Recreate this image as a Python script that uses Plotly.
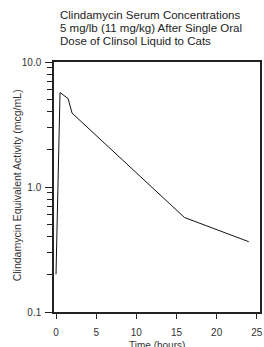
import plotly.graph_objects as go

time_h = [0, 0.5, 1.5, 2, 16, 24]
conc = [0.2, 5.7, 5.1, 3.9, 0.57, 0.365]

x_ticks = [0, 5, 10, 15, 20, 25]
y_ticks = [0.1, 1.0, 10.0]
y_ticktext = ["0.1", "1.0", "10.0"]
y_minor = [0.2, 0.3, 0.4, 0.5, 0.6, 0.7, 0.8, 0.9, 2, 3, 4, 5, 6, 7, 8, 9]

title_lines = ["Clindamycin Serum Concentrations",
               "5 mg/lb (11 mg/kg) After Single Oral",
               "Dose of Clinsol Liquid to Cats"]
x_title = "Time (hours)"
y_title = "Clindamycin Equivalent Activity (mcg/mL)"

FONT = "Liberation Sans, Arial, sans-serif"
TXT = "#333333"
AX = "#222222"

fig = go.Figure()
fig.add_trace(go.Scatter(x=time_h, y=conc, mode="lines",
                         line=dict(color="#111111", width=1)))

fig.update_layout(
    width=264, height=347,
    margin=dict(l=54, r=2, t=62, b=35),
    paper_bgcolor="white", plot_bgcolor="white",
    showlegend=False,
    font=dict(family=FONT, size=10, color=TXT),
    xaxis=dict(range=[-0.25, 25.4], tickvals=x_ticks, ticks="outside",
               ticklen=5, tickwidth=1, tickcolor=AX, ticklabelstandoff=5,
               showline=True, mirror=True, linecolor=AX, linewidth=1.5,
               showgrid=False, zeroline=False,
               tickfont=dict(size=10, color=TXT)),
    yaxis=dict(type="log", range=[-1, 1], tickvals=y_ticks, ticktext=y_ticktext,
               ticks="outside", ticklen=7, tickwidth=1, tickcolor=AX,
               ticklabelstandoff=2,
               showline=True, mirror=True, linecolor=AX, linewidth=1.5,
               showgrid=False, zeroline=False,
               tickfont=dict(size=10, color=TXT),
               minor=dict(tickvals=y_minor, ticks="outside", ticklen=5,
                          tickwidth=1, tickcolor=AX, showgrid=False)),
)

for i, line in enumerate(title_lines):
    fig.add_annotation(text=line, xref="paper", yref="paper",
                       x=(58 - 54) / 208, y=(312 - (15 + 13 * i)) / 250,
                       xanchor="left", yanchor="middle", showarrow=False,
                       font=dict(size=11.5, color="#222222", family=FONT))

fig.add_annotation(text=x_title, xref="paper", yref="paper",
                   x=0.5, y=(312 - 345.5) / 250, xanchor="center", yanchor="middle",
                   showarrow=False, font=dict(size=10, color=TXT, family=FONT))
fig.add_annotation(text=y_title, xref="paper", yref="paper",
                   x=(17 - 54) / 208, y=(312 - 185) / 250, xanchor="center",
                   yanchor="middle", textangle=-90, showarrow=False,
                   font=dict(size=10.5, color=TXT, family=FONT))

fig.write_html("out.html", config={"displayModeBar": False},
               post_script="document.body.style.margin='0';document.body.style.overflow='hidden';")
